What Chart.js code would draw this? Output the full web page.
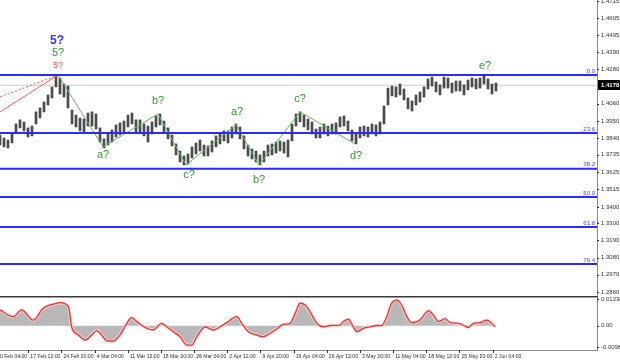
<!DOCTYPE html>
<html>
<head>
<meta charset="utf-8">
<title>GBP/USD H4</title>
<script src="https://cdn.jsdelivr.net/npm/chart.js@4"></script>
<style>
  html, body { margin: 0; padding: 0; background: #fff; }
  #wrap { position: relative; width: 620px; height: 361px; overflow: hidden; }
  #priceChart { position: absolute; left: 0; top: 0; }
  #oscChart { position: absolute; left: 0; top: 296px; }
</style>
</head>
<body>
<div id="wrap">
  <canvas id="priceChart" width="620" height="296"></canvas>
  <canvas id="oscChart" width="620" height="65"></canvas>
</div>
<script>
// price bars, one slot each (oldest first)
const barHigh = [
  1.3861, 1.3842, 1.3829, 1.3874, 1.3931, 1.3957, 1.3944, 1.3906, 1.3918, 1.4008,
  1.4033, 1.4071, 1.4116, 1.4167, 1.4243, 1.4224, 1.4186, 1.4173, 1.4020, 1.3988,
  1.3969, 1.3963, 1.4001, 1.4008, 1.3995, 1.3906, 1.3836, 1.3867, 1.3893, 1.3925,
  1.3938, 1.3950, 1.3988, 1.4001, 1.3957, 1.3957, 1.3931, 1.3918, 1.3944, 1.3982,
  1.3995, 1.3950, 1.3906, 1.3861, 1.3804, 1.3759, 1.3727, 1.3740, 1.3785, 1.3810,
  1.3829, 1.3797, 1.3791, 1.3823, 1.3855, 1.3874, 1.3887, 1.3887, 1.3912, 1.3931,
  1.3912, 1.3855, 1.3797, 1.3772, 1.3759, 1.3734, 1.3759, 1.3797, 1.3804, 1.3816,
  1.3823, 1.3816, 1.3829, 1.3931, 1.3995, 1.4008, 1.3988, 1.3963, 1.3944, 1.3899,
  1.3912, 1.3931, 1.3918, 1.3931, 1.3938, 1.3976, 1.3982, 1.3950, 1.3893, 1.3874,
  1.3912, 1.3918, 1.3912, 1.3931, 1.3925, 1.3944, 1.4046, 1.4160, 1.4173, 1.4167,
  1.4186, 1.4154, 1.4097, 1.4078, 1.4116, 1.4135, 1.4167, 1.4218, 1.4230, 1.4199,
  1.4180, 1.4230, 1.4224, 1.4192, 1.4205, 1.4205, 1.4180, 1.4211, 1.4224, 1.4218,
  1.4224, 1.4243, 1.4218, 1.4186, 1.4192
];
const barLow = [
  1.3797, 1.3785, 1.3778, 1.3810, 1.3874, 1.3906, 1.3887, 1.3848, 1.3855, 1.3931,
  1.3969, 1.4008, 1.4052, 1.4097, 1.4167, 1.4122, 1.4103, 1.4033, 1.3931, 1.3912,
  1.3887, 1.3874, 1.3918, 1.3918, 1.3899, 1.3816, 1.3778, 1.3797, 1.3816, 1.3848,
  1.3861, 1.3880, 1.3912, 1.3931, 1.3874, 1.3880, 1.3855, 1.3816, 1.3867, 1.3912,
  1.3925, 1.3874, 1.3836, 1.3791, 1.3734, 1.3689, 1.3670, 1.3676, 1.3715, 1.3740,
  1.3759, 1.3727, 1.3727, 1.3753, 1.3785, 1.3804, 1.3823, 1.3810, 1.3842, 1.3867,
  1.3836, 1.3772, 1.3727, 1.3708, 1.3689, 1.3670, 1.3689, 1.3727, 1.3734, 1.3746,
  1.3759, 1.3746, 1.3721, 1.3823, 1.3918, 1.3944, 1.3912, 1.3893, 1.3867, 1.3842,
  1.3842, 1.3867, 1.3855, 1.3867, 1.3867, 1.3912, 1.3918, 1.3887, 1.3823, 1.3804,
  1.3842, 1.3855, 1.3848, 1.3867, 1.3855, 1.3867, 1.3931, 1.4052, 1.4110, 1.4103,
  1.4116, 1.4084, 1.4027, 1.4014, 1.4052, 1.4071, 1.4103, 1.4154, 1.4173, 1.4135,
  1.4116, 1.4160, 1.4160, 1.4129, 1.4141, 1.4141, 1.4116, 1.4148, 1.4167, 1.4154,
  1.4160, 1.4186, 1.4154, 1.4122, 1.4141
];
const lastPrice = 1.4178;

// right axis price ticks
const priceTicks = [1.4715, 1.4605, 1.4495, 1.4390, 1.4280, 1.4060, 1.3950, 1.3840,
  1.3735, 1.3625, 1.3515, 1.3400, 1.3300, 1.3190, 1.3080, 1.2970, 1.2860];

// fibonacci retracement levels
const fibNames = ['0.0', '23.6', '38.2', '50.0', '61.8', '76.4'];
const fibLevels = [1.4243, 1.3874, 1.3646, 1.3466, 1.3275, 1.3039];

// wave count pivots (green zigzag)
const waveSlots = [14.5, 25.75, 39.5, 46.5, 59, 64.75, 75, 88.75];
const wavePrices = [1.4243, 1.3785, 1.3995, 1.3670, 1.3925, 1.3670, 1.4008, 1.3804];

// red trend lines into the 5? top
const redSolid = [[0, 1.4008], [14.5, 1.4243]];
const redDotted = [[0, 1.4103], [14.5, 1.4243]];

// wave labels
const labelText = ['5?', '5?', '5?', 'a?', 'b?', 'c?', 'a?', 'b?', 'c?', 'd?', 'e?'];
const labelKind = ['blue', 'green', 'red', 'green', 'green', 'green', 'green', 'green', 'green', 'green', 'green'];
const labelSlots = [14.25, 14.5, 14.5, 25.75, 39.5, 47.25, 59.25, 64.75, 75, 89, 121.25];
const labelPrices = [1.4460, 1.4383, 1.4301, 1.3734, 1.4078, 1.3606, 1.4008, 1.3574, 1.4090, 1.3727, 1.4301];

// oscillator
const oscSlots = [0, 3.3, 5.4, 8.3, 10.8, 14.2, 15, 17.1, 17.9, 19.6, 21.3, 22.9, 24.2, 25.4, 26.7,
  28.3, 30, 31.7, 32.9, 34.2, 36.7, 38.3, 40.4, 41.7, 43.3, 45, 46.7, 47.9, 49.2, 51.3, 53.3, 55,
  56.7, 59.2, 60.4, 62.1, 64.2, 65.8, 67.5, 69.2, 70.8, 72.5, 73.8, 75, 76.3, 77.5, 79.2, 80.8,
  82.5, 85, 85.8, 87.1, 88.3, 89.2, 90.8, 92.5, 94.2, 95.4, 96.7, 97.9, 99.2, 100.4, 101.7, 102.9,
  105, 106.3, 107.1, 108.3, 109.6, 111.3, 112.5, 114.6, 116.3, 117.1, 118.3, 120, 121.7, 122.9, 123.8];
const oscValues = [0.0073, 0.0042, 0.0073, 0.0026, 0.0081, 0.0104, 0.0107, 0.0088, -0.0005, -0.0043,
  -0.0066, -0.0043, -0.0023, -0.0043, -0.0070, -0.0071, -0.0043, 0.0011, 0.0037, 0.0019, -0.0012,
  -0.0020, 0.0011, -0.0005, -0.0028, -0.0051, -0.0090, -0.0090, -0.0051, -0.0005, -0.0020, -0.0005,
  0.0014, 0.0042, 0.0011, -0.0028, -0.0043, -0.0051, -0.0035, -0.0015, 0.0006, 0.0011, 0.0057,
  0.0104, 0.0096, 0.0065, 0.0011, -0.0005, 0.0001, 0.0003, 0.0019, 0.0030, -0.0005, -0.0028,
  -0.0012, -0.0005, 0.0001, 0.0001, 0.0042, 0.0104, 0.0119, 0.0096, 0.0042, 0.0014, 0.0026,
  0.0057, 0.0070, 0.0050, 0.0019, 0.0033, 0.0014, 0.0011, -0.0002, -0.0008, 0.0011, 0.0014,
  0.0026, 0.0011, -0.0005];
const oscTicks = [0.01238, 0, -0.00988];
const oscTickText = ['0.01238', '0.00', '-0.00988'];

// time axis
const dateLabels = ['10 Feb 04:00', '17 Feb 12:00', '24 Feb 20:00', '4 Mar 04:00', '11 Mar 12:00',
  '18 Mar 20:00', '26 Mar 04:00', '2 Apr 12:00', '9 Apr 20:00', '19 Apr 04:00', '26 Apr 12:00',
  '3 May 20:00', '11 May 04:00', '18 May 12:00', '25 May 20:00', '2 Jun 04:00'];
const dateSlots = [-1.22, 7.08, 15.37, 23.66, 31.95, 40.25, 48.54, 56.83, 65.12, 73.42, 81.71,
  90.0, 98.29, 106.58, 114.87, 123.17];

const SLOT_MAX = 149.25;
const AXIS_W = 23;
const FONT = '"Liberation Sans", Arial, sans-serif';
const labelStyle = {
  blue: { color: '#3434f0', font: 'bold 12px ' + FONT },
  green: { color: '#2f9e2f', font: '11px ' + FONT },
  red: { color: '#ff5252', font: '9px ' + FONT }
};

const pts = arr => arr.map(p => ({ x: p[0], y: p[1] }));
const hLine = v => [{ x: 0, y: v }, { x: SLOT_MAX, y: v }];

const priceText = {
  id: 'priceText',
  afterDraw(chart) {
    const { ctx, chartArea, scales: { x, y } } = chart;
    ctx.save();
    // axis labels
    ctx.font = '6px ' + FONT;
    ctx.fillStyle = '#333';
    ctx.textAlign = 'left';
    ctx.textBaseline = 'middle';
    priceTicks.forEach(v => {
      const py = y.getPixelForValue(v);
      ctx.fillRect(chartArea.right, Math.round(py), 2, 1);
      ctx.fillText(v.toFixed(4), chartArea.right + 4, py);
    });
    // last price box
    const lp = y.getPixelForValue(lastPrice);
    ctx.fillStyle = '#000';
    ctx.fillRect(chartArea.right + 1, Math.round(lp) - 5, AXIS_W, 10);
    ctx.fillStyle = '#fff';
    ctx.font = 'bold 6px ' + FONT;
    ctx.fillText(lastPrice.toFixed(4), chartArea.right + 4, lp);
    // fib names
    ctx.font = '6px ' + FONT;
    ctx.fillStyle = '#4a4aff';
    ctx.textAlign = 'right';
    ctx.textBaseline = 'bottom';
    fibLevels.forEach((v, i) => {
      ctx.fillText(fibNames[i], chartArea.right - 2, y.getPixelForValue(v) - 1);
    });
    // wave labels
    ctx.textAlign = 'center';
    ctx.textBaseline = 'middle';
    labelText.forEach((t, i) => {
      const st = labelStyle[labelKind[i]];
      ctx.font = st.font;
      ctx.fillStyle = st.color;
      ctx.fillText(t, x.getPixelForValue(labelSlots[i]), y.getPixelForValue(labelPrices[i]));
    });
    ctx.restore();
  }
};

new Chart(document.getElementById('priceChart'), {
  type: 'bar',
  data: {
    datasets: [
      ...fibLevels.map(v => ({
        type: 'line', data: hLine(v), borderColor: '#2a2aff', borderWidth: 2,
        pointRadius: 0, order: 1
      })),
      {
        type: 'line', data: waveSlots.map((s, i) => ({ x: s, y: wavePrices[i] })),
        borderColor: '#5fbf5f', borderWidth: 1, pointRadius: 0, order: 2
      },
      {
        type: 'line', data: pts(redSolid), borderColor: '#ff5a5a', borderWidth: 1,
        pointRadius: 0, order: 2
      },
      {
        type: 'line', data: pts(redDotted), borderColor: '#ff5a5a', borderWidth: 1,
        borderDash: [2, 2], pointRadius: 0, order: 2
      },
      {
        type: 'bar', data: barHigh.map((h, i) => ({ x: i, y: [barLow[i], h] })),
        backgroundColor: '#4b4b4b', barThickness: 2, order: 5
      },
      {
        type: 'line', data: hLine(lastPrice), borderColor: '#cccccc', borderWidth: 1,
        pointRadius: 0, order: 6
      }
    ]
  },
  options: {
    responsive: false,
    devicePixelRatio: 1,
    animation: false,
    layout: { padding: 0 },
    plugins: { legend: { display: false }, tooltip: { enabled: false } },
    scales: {
      x: { type: 'linear', min: 0, max: SLOT_MAX, offset: false, display: false },
      y: {
        type: 'linear', position: 'right', min: 1.2835, max: 1.4721,
        ticks: { display: false }, grid: { display: false },
        border: { display: true, color: '#8a8a8a', width: 1 },
        afterFit(s) { s.width = AXIS_W; }
      }
    }
  },
  plugins: [priceText]
});

const oscText = {
  id: 'oscText',
  afterDraw(chart) {
    const { ctx, chartArea, scales: { x, y } } = chart;
    ctx.save();
    // pane separator
    ctx.fillStyle = '#3a3a3a';
    ctx.fillRect(0, 0, chartArea.right + 1, 1.5);
    ctx.font = '6px ' + FONT;
    ctx.fillStyle = '#333';
    ctx.textAlign = 'left';
    ctx.textBaseline = 'middle';
    oscTicks.forEach((v, i) => {
      const py = y.getPixelForValue(v);
      ctx.fillRect(chartArea.right, Math.round(py), 2, 1);
      ctx.fillText(oscTickText[i], chartArea.right + 4, py);
    });
    dateSlots.forEach((s, i) => {
      const px = x.getPixelForValue(s);
      ctx.fillRect(Math.round(px), chartArea.bottom, 1, 3);
      ctx.save();
      ctx.translate(px + 2, chartArea.bottom + 6);
      ctx.scale(0.85, 1);
      ctx.fillText(dateLabels[i], 0, 0);
      ctx.restore();
    });
    ctx.restore();
  }
};

const oscData = oscSlots.map((s, i) => ({ x: s, y: oscValues[i] }));

new Chart(document.getElementById('oscChart'), {
  type: 'line',
  data: {
    datasets: [
      {
        data: oscData, borderColor: '#e83434', borderWidth: 1.3, pointRadius: 0,
        tension: 0.4, cubicInterpolationMode: 'monotone', order: 1
      },
      {
        data: oscData, borderColor: 'rgba(255,215,215,0.95)', borderWidth: 3.2, pointRadius: 0,
        tension: 0.4, cubicInterpolationMode: 'monotone', order: 2
      },
      {
        data: oscData, borderColor: '#a8a8a8', borderWidth: 0.5, backgroundColor: '#b8b8b8',
        fill: 'origin', pointRadius: 0, tension: 0.4, cubicInterpolationMode: 'monotone', order: 3
      }
    ]
  },
  options: {
    responsive: false,
    devicePixelRatio: 1,
    animation: false,
    layout: { padding: 0 },
    plugins: { legend: { display: false }, tooltip: { enabled: false } },
    scales: {
      x: {
        type: 'linear', min: 0, max: SLOT_MAX, position: 'bottom',
        ticks: { display: false }, grid: { display: false },
        border: { display: true, color: '#8a8a8a', width: 1 },
        afterFit(s) { s.height = 11; }
      },
      y: {
        type: 'linear', position: 'right', min: -0.01127, max: 0.01377,
        ticks: { display: false }, grid: { display: false },
        border: { display: true, color: '#8a8a8a', width: 1 },
        afterFit(s) { s.width = AXIS_W; }
      }
    }
  },
  plugins: [oscText]
});
</script>
</body>
</html>
